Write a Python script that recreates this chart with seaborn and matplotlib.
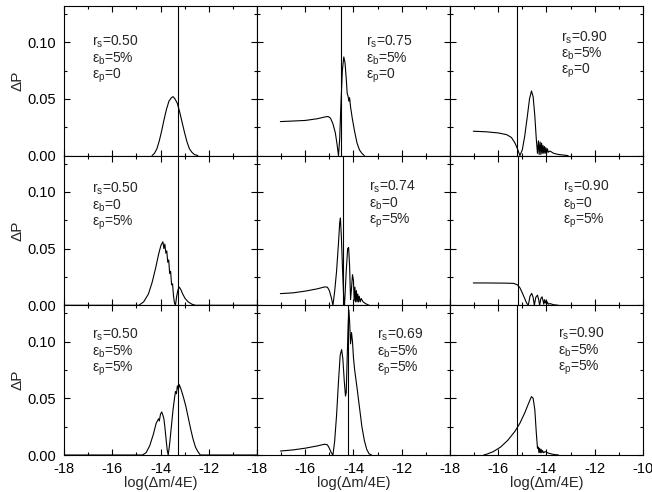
import numpy as np
import pandas as pd
import matplotlib.pyplot as plt
import seaborn as sns
from matplotlib.ticker import MultipleLocator, FormatStrFormatter

sns.set_style('ticks', {'xtick.direction': 'in', 'ytick.direction': 'in'})
plt.rcParams['font.family'] = ['Liberation Sans', 'DejaVu Sans']
plt.rcParams['axes.unicode_minus'] = False

# --- curves, row by row (x = log(dm/4E), y = dP) ---
x11 = [-14.35, -14.25, -14.15, -14.05, -13.95, -13.85, -13.75, -13.65, -13.55, -13.48, -13.40,
       -13.30, -13.20, -13.10, -13.00, -12.90, -12.80, -12.70, -12.60, -12.45]
y11 = [0.0, 0.002, 0.006, 0.013, 0.022, 0.032, 0.041, 0.048, 0.051, 0.052, 0.050,
       0.046, 0.038, 0.029, 0.020, 0.012, 0.006, 0.003, 0.001, 0.0]

x12 = [-17.03, -16.5, -16.0, -15.5, -15.2, -15.05, -14.95, -14.85, -14.75, -14.68, -14.62,
       -14.57, -14.52, -14.46, -14.40, -14.35, -14.30, -14.26, -14.22, -14.19, -14.16, -14.12,
       -14.05, -13.95, -13.85, -13.75, -13.65, -13.55]
y12 = [0.030, 0.0305, 0.031, 0.0325, 0.034, 0.0345, 0.033, 0.028, 0.020, 0.010, 0.0,
       0.015, 0.045, 0.075, 0.087, 0.082, 0.068, 0.055, 0.052, 0.048, 0.051, 0.043,
       0.033, 0.021, 0.011, 0.005, 0.002, 0.0]

x13 = [-17.03, -16.5, -16.0, -15.65, -15.45, -15.30, -15.20, -15.10, -15.00, -14.90, -14.80,
       -14.70, -14.62, -14.55, -14.48, -14.42, -14.37, -14.33, -14.30, -14.26, -14.23, -14.20,
       -14.17, -14.14, -14.11, -14.08, -14.05, -14.02, -13.99, -13.96, -13.92, -13.85, -13.70,
       -13.50, -13.10]
y13 = [0.0215, 0.021, 0.020, 0.0185, 0.016, 0.011, 0.006, 0.0, 0.005, 0.017, 0.033,
       0.050, 0.057, 0.052, 0.035, 0.015, 0.002, 0.013, 0.001, 0.012, 0.001, 0.011,
       0.002, 0.009, 0.002, 0.008, 0.002, 0.007, 0.002, 0.006, 0.003, 0.004, 0.002,
       0.001, 0.0]

x21 = [-18.0, -14.9, -14.7, -14.5, -14.35, -14.2, -14.08, -13.98, -13.90, -13.86, -13.82,
       -13.78, -13.74, -13.70, -13.66, -13.62, -13.58, -13.54, -13.50, -13.46, -13.42, -13.38,
       -13.33, -13.27, -13.22, -13.16, -13.08, -12.98, -12.85, -12.70, -12.55, -10.0]
y21 = [0.0, 0.0, 0.003, 0.010, 0.020, 0.033, 0.045, 0.053, 0.056, 0.050, 0.054,
       0.046, 0.048, 0.038, 0.040, 0.028, 0.030, 0.018, 0.019, 0.008, 0.002, 0.0,
       0.008, 0.014, 0.016, 0.014, 0.010, 0.006, 0.003, 0.001, 0.0, 0.0]

x22 = [-17.03, -16.5, -16.0, -15.5, -15.2, -15.08, -15.0, -14.92, -14.85, -14.78, -14.70,
       -14.62, -14.57, -14.54, -14.50, -14.45, -14.40, -14.37, -14.30, -14.24, -14.20, -14.16,
       -14.12, -14.08, -14.04, -14.00, -13.97, -13.94, -13.91, -13.88, -13.85, -13.82, -13.79,
       -13.76, -13.72, -13.68, -13.60, -13.50, -13.35]
y22 = [0.0103, 0.011, 0.0125, 0.0145, 0.0162, 0.016, 0.013, 0.007, 0.0, 0.012, 0.030,
       0.055, 0.073, 0.077, 0.060, 0.030, 0.005, 0.0, 0.030, 0.050, 0.051, 0.035,
       0.005, 0.015, 0.027, 0.022, 0.004, 0.016, 0.003, 0.013, 0.003, 0.010, 0.003,
       0.008, 0.003, 0.006, 0.003, 0.0015, 0.0]

x23 = [-17.03, -16.5, -16.0, -15.6, -15.35, -15.2, -15.1, -15.0, -14.9, -14.82, -14.75,
       -14.68, -14.61, -14.55, -14.50, -14.44, -14.37, -14.32, -14.28, -14.23, -14.18, -14.14,
       -14.11, -14.08, -14.05, -14.02, -13.99, -13.96, -13.92, -13.85, -13.70, -13.50]
y23 = [0.0197, 0.0197, 0.0196, 0.0195, 0.0193, 0.018, 0.0155, 0.011, 0.006, 0.002, 0.0,
       0.008, 0.0105, 0.007, 0.0, 0.007, 0.009, 0.005, 0.0, 0.006, 0.0075, 0.004,
       0.001, 0.005, 0.002, 0.004, 0.001, 0.003, 0.001, 0.0015, 0.0005, 0.0]

x31 = [-18.0, -14.75, -14.6, -14.45, -14.3, -14.18, -14.08, -14.05, -14.0, -13.95, -13.9,
       -13.86, -13.82, -13.76, -13.72, -13.68, -13.62, -13.55, -13.48, -13.42, -13.38, -13.34,
       -13.30, -13.26, -13.22, -13.15, -13.05, -12.95, -12.85, -12.75, -12.65, -12.55, -12.45,
       -12.35, -10.0]
y31 = [0.0, 0.0, 0.002, 0.008, 0.018, 0.028, 0.032, 0.030, 0.036, 0.038, 0.035,
       0.032, 0.025, 0.012, 0.004, 0.0, 0.010, 0.025, 0.040, 0.050, 0.056, 0.054,
       0.061, 0.058, 0.062, 0.058, 0.051, 0.043, 0.033, 0.023, 0.014, 0.007, 0.003,
       0.0, 0.0]

x32 = [-17.03, -16.5, -16.0, -15.5, -15.2, -15.08, -15.0, -14.92, -14.85, -14.78, -14.70,
       -14.62, -14.55, -14.49, -14.44, -14.38, -14.33, -14.30, -14.26, -14.22, -14.19, -14.16,
       -14.12, -14.08, -14.04, -14.00, -13.95, -13.85, -13.75, -13.65, -13.55, -13.45, -13.35,
       -13.25]
y32 = [0.0035, 0.0045, 0.006, 0.008, 0.0095, 0.009, 0.006, 0.002, 0.0, 0.012, 0.035,
       0.065, 0.088, 0.093, 0.085, 0.065, 0.052, 0.055, 0.085, 0.115, 0.128, 0.118,
       0.098, 0.108, 0.100, 0.086, 0.075, 0.059, 0.042, 0.025, 0.013, 0.005, 0.001,
       0.0]

x33 = [-16.6, -16.5, -16.2, -15.9, -15.6, -15.3, -15.1, -14.9, -14.75, -14.62, -14.55,
       -14.48, -14.42, -14.37, -14.34, -14.31, -14.28, -14.25, -14.22, -14.19, -14.16, -14.12,
       -14.05, -13.90, -13.70, -13.50]
y33 = [0.0, 0.0005, 0.003, 0.007, 0.013, 0.021, 0.028, 0.037, 0.045, 0.0515, 0.050,
       0.040, 0.020, 0.006, 0.007, 0.002, 0.006, 0.002, 0.005, 0.002, 0.004, 0.002,
       0.003, 0.0015, 0.0005, 0.0]

curves = [[(x11, y11), (x12, y12), (x13, y13)],
          [(x21, y21), (x22, y22), (x23, y23)],
          [(x31, y31), (x32, y32), (x33, y33)]]

# vertical reference lines
vlines = [[-13.27, -14.52, -15.22],
          [-13.27, -14.45, -15.19],
          [-13.27, -14.21, -15.21]]

rs_vals = [['0.50', '0.75', '0.90'],
           ['0.50', '0.74', '0.90'],
           ['0.50', '0.69', '0.90']]
eb_vals = ['5%', '0', '5%']
ep_vals = ['0', '5%', '5%']

# annotation anchor (axes fraction) of the first text line
text_pos = [[(0.145, 0.758), (0.565, 0.760), (0.574, 0.790)],
            [(0.145, 0.778), (0.582, 0.789), (0.584, 0.789)],
            [(0.145, 0.800), (0.623, 0.800), (0.561, 0.810)]]

fig, axes = plt.subplots(3, 3, figsize=(6.52, 4.92), dpi=100)
fig.subplots_adjust(left=0.0982, right=0.986, top=0.988, bottom=0.0752, wspace=0, hspace=0)

for r in range(3):
    for c in range(3):
        ax = axes[r, c]
        xs, ys = curves[r][c]
        df = pd.DataFrame({'x': xs, 'y': ys})
        sns.lineplot(data=df, x='x', y='y', ax=ax, color='k', lw=0.8,
                     estimator=None, sort=False)
        ax.axvline(vlines[r][c], color='k', lw=0.8)

        tx, ty = text_pos[r][c]
        lines = [r'r$_\mathregular{s}$=' + rs_vals[r][c],
                 r'ε$_\mathregular{b}$=' + eb_vals[r],
                 r'ε$_\mathregular{p}$=' + ep_vals[r]]
        for i, s in enumerate(lines):
            ax.text(tx, ty - i * 0.113, s, transform=ax.transAxes, fontsize=10,
                    ha='left', va='center')

        ax.set_xlim(-18, -10)
        ax.set_ylim(0, 0.132)
        ax.xaxis.set_major_locator(MultipleLocator(2))
        ax.xaxis.set_minor_locator(MultipleLocator(1))
        ax.yaxis.set_major_locator(MultipleLocator(0.05))
        ax.yaxis.set_minor_locator(MultipleLocator(0.025))
        ax.yaxis.set_major_formatter(FormatStrFormatter('%.2f'))
        ax.tick_params(which='both', direction='in', top=True, right=True,
                       labelsize=10.5, colors='k', width=0.8)
        ax.tick_params(which='major', length=4)
        ax.tick_params(which='minor', length=2.5)
        ax.tick_params(axis='y', pad=6)
        ax.tick_params(axis='x', pad=5)
        for sp in ax.spines.values():
            sp.set_linewidth(0.8)
            sp.set_color('k')
        ax.set_xlabel('')
        ax.set_ylabel('')
        if c == 0:
            ax.set_ylabel('ΔP', fontsize=11, labelpad=2)
        else:
            ax.tick_params(axis='y', labelleft=False)
        if r == 2:
            ax.set_xlabel('log(Δm/4E)', fontsize=10.5, labelpad=0)
        else:
            ax.tick_params(axis='x', labelbottom=False)

# hide the right-end "-10" label where the next panel starts
for c in range(2):
    fig.canvas.draw()
    for lab in axes[2, c].get_xticklabels():
        if lab.get_text() == '-10':
            lab.set_visible(False)

fig.savefig('out.png', dpi=100)
